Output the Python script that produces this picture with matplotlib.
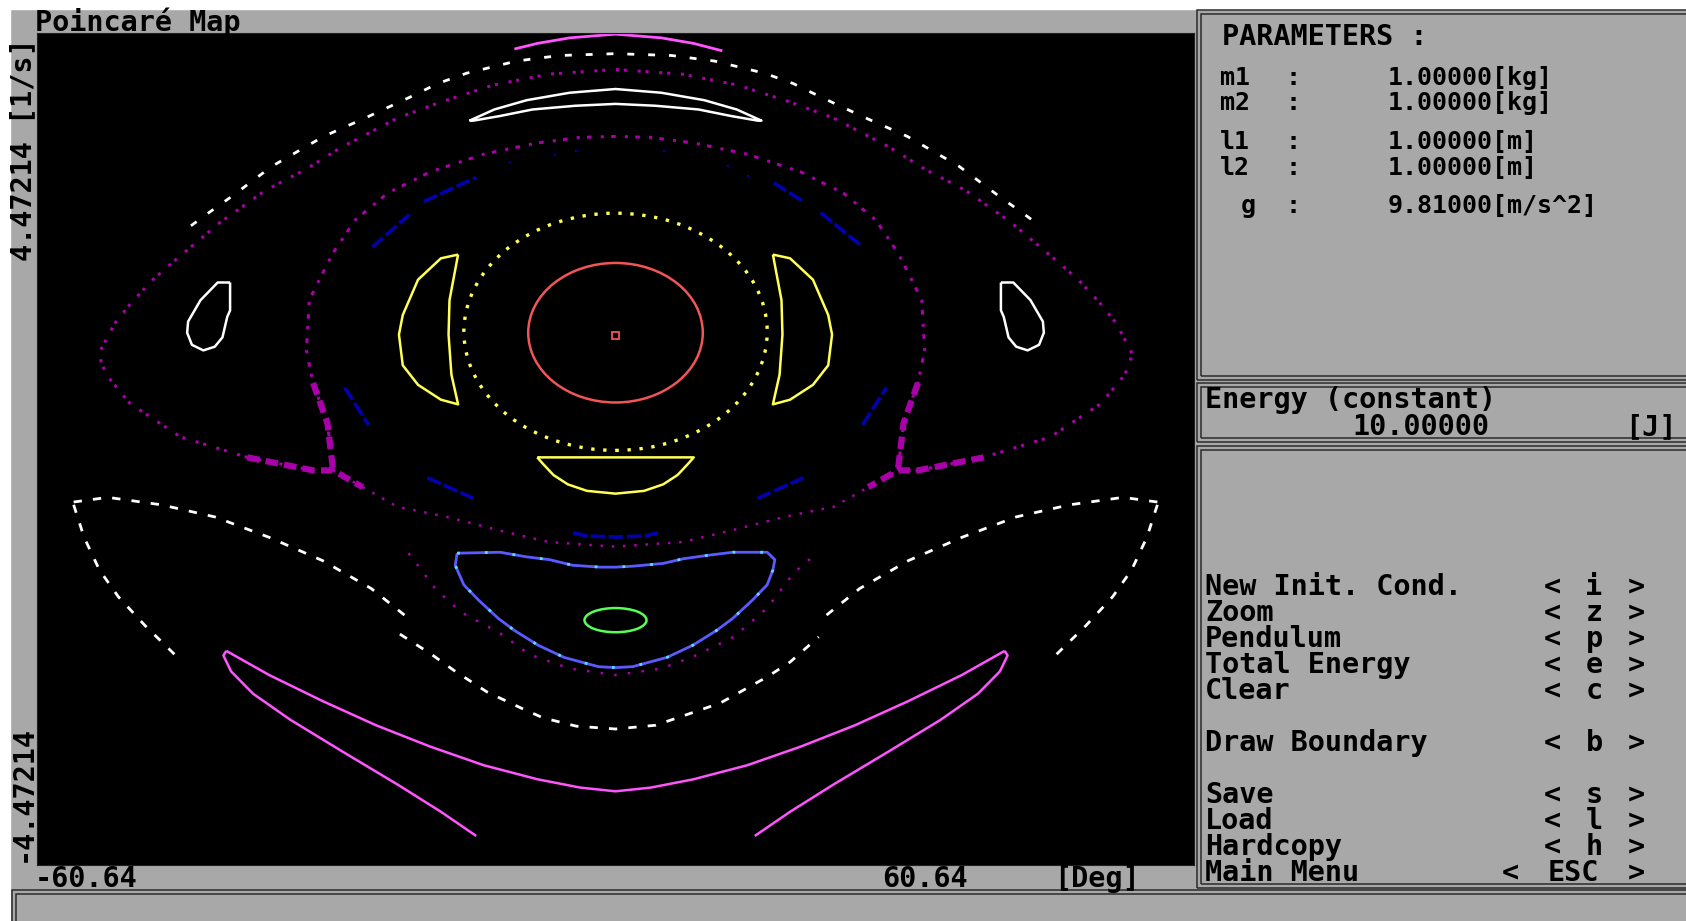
import matplotlib.pyplot as plt
from matplotlib.patches import Ellipse, Rectangle

W, H = 1686, 921
TH_MAX = 60.64      # angle range [deg]
OM_MAX = 4.47214    # angular velocity range [1/s]

GREY = '#a8a8a8'
EDGE = '#2c2c2c'
FONT = dict(family=['DejaVu Sans Mono'], weight='bold', size=20.5, color='black')

# ---------------- section points (theta [deg], omega [1/s]) ----------------
red_center, red_size = (0.0, 1.25), (18.3, 1.50)
fixed_point, fixed_size = (0.0, 1.215), (0.7, 0.075)
ring_center, ring_size = (0.0, 1.26), (31.8, 2.55)
green_center, green_size = (0.0, -1.84), (6.5, 0.26)

crescent_r_x = [16.5, 18.3, 20.7, 22.3, 22.7, 22.3, 20.7, 18.3, 16.5, 17.2, 17.5, 17.4, 16.5]
crescent_l_x = [-16.5, -18.3, -20.7, -22.3, -22.7, -22.3, -20.7, -18.3, -16.5, -17.2, -17.5, -17.4, -16.5]
crescent_y = [2.09, 2.05, 1.82, 1.44, 1.23, 0.90, 0.69, 0.53, 0.48, 0.80, 1.23, 1.60, 2.09]

lens_x = [-8.2, 8.2, 7.6, 6.5, 5.0, 3.0, 0.0, -3.0, -5.0, -6.5, -7.6, -8.2]
lens_y = [-0.09, -0.09, -0.16, -0.28, -0.38, -0.45, -0.48, -0.45, -0.38, -0.28, -0.16, -0.09]

bowl_x = [-16.6, -12.1, -9.3, -6.9, -4.5, -1.6, 0.0, 1.8, 5.0, 7.1, 9.9, 12.3, 15.9, 16.7,
          16.5, 15.9, 14.4, 12.3, 10.6, 8.1, 5.4, 1.8, 0.0, -1.8, -5.4, -8.1, -10.6, -12.3,
          -14.4, -15.9, -16.8, -16.6]
bowl_y = [-1.12, -1.11, -1.16, -1.19, -1.25, -1.27, -1.27, -1.26, -1.23, -1.18, -1.14, -1.11,
          -1.11, -1.19, -1.30, -1.46, -1.62, -1.82, -1.95, -2.11, -2.24, -2.34, -2.35, -2.34,
          -2.24, -2.11, -1.95, -1.82, -1.62, -1.46, -1.25, -1.12]

blue_chain = [
    ([-28.4, -25.9], [0.66, 0.26]),
    ([-19.7, -14.9], [-0.31, -0.53]),
    ([-4.45, -3.0, 0.0, 3.1, 4.45], [-0.90, -0.935, -0.946, -0.935, -0.90]),
    ([14.9, 19.7], [-0.53, -0.31]),
    ([25.9, 28.4], [0.26, 0.66]),
    ([-25.5, -21.6], [2.17, 2.52]),
    ([-20.1, -14.6], [2.66, 2.92]),
    ([16.6, 19.7], [2.86, 2.66]),
    ([21.5, 25.7], [2.54, 2.19]),
]
blue_dots_x = [-11.1, -6.3, -4.1, 5.1, 11.8, 13.9]
blue_dots_y = [3.08, 3.16, 3.20, 3.20, 3.04, 2.94]

tear_l_x = [-40.4, -41.7, -43.5, -44.8, -44.9, -44.4, -43.2, -42.0, -41.2, -40.7, -40.4, -40.4]
tear_r_x = [40.4, 41.7, 43.5, 44.8, 44.9, 44.4, 43.2, 42.0, 41.2, 40.7, 40.4, 40.4]
tear_y = [1.79, 1.79, 1.60, 1.37, 1.25, 1.12, 1.06, 1.10, 1.20, 1.42, 1.49, 1.79]

cap_x = [-15.3, -12.7, -9.3, -4.8, 0.0, 4.8, 9.3, 12.7, 15.3, 14.9, 12.1, 8.7, 4.2, 0.0,
         -4.2, -8.7, -12.1, -14.9, -15.3]
cap_y = [3.53, 3.65, 3.75, 3.83, 3.87, 3.83, 3.75, 3.65, 3.53, 3.53, 3.58, 3.65, 3.69, 3.71,
         3.69, 3.65, 3.58, 3.53, 3.53]

arch_x = [-44.5, -42.5, -40.3, -36.0, -30.6, -26.2, -21.6, -18.6, -15.6, -10.4, -5.9, 0.0,
          5.9, 10.4, 15.6, 18.6, 21.6, 26.2, 30.6, 36.0, 40.3, 42.5, 44.5]
arch_y = [2.40, 2.55, 2.71, 3.04, 3.36, 3.56, 3.78, 3.93, 4.04, 4.17, 4.23, 4.25,
          4.23, 4.17, 4.04, 3.93, 3.78, 3.56, 3.36, 3.04, 2.71, 2.55, 2.40]

top_x = [-10.6, -8.2, -4.8, 0.0, 4.8, 8.2, 11.2]
top_y = [4.30, 4.36, 4.42, 4.46, 4.42, 4.36, 4.28]

banana_x = [-40.8, -36.3, -30.7, -25.1, -19.4, -13.8, -8.2, -3.7, 0.0, 3.7, 8.2, 13.8,
            19.4, 25.1, 30.7, 36.3, 40.8]
banana_y = [-2.17, -2.43, -2.71, -2.97, -3.20, -3.40, -3.55, -3.64, -3.68, -3.64, -3.55,
            -3.40, -3.20, -2.97, -2.71, -2.43, -2.17]
tail_l_x = [-40.8, -41.1, -40.3, -38.0, -34.1, -28.5, -22.8, -18.3, -14.6]
tail_r_x = [40.8, 41.1, 40.3, 38.0, 34.1, 28.5, 22.8, 18.3, 14.6]
tail_y = [-2.17, -2.22, -2.39, -2.63, -2.91, -3.26, -3.61, -3.90, -4.16]

lobe_up_l_x = [-56.8, -53.2, -47.6, -42.0, -36.3, -30.7, -25.6, -21.7]
lobe_up_r_x = [56.8, 53.2, 47.6, 42.0, 36.3, 30.7, 25.6, 21.7]
lobe_up_y = [-0.57, -0.52, -0.60, -0.73, -0.95, -1.20, -1.50, -1.82]
lobe_lo_l_x = [-56.8, -55.7, -54.1, -52.1, -49.3, -45.9]
lobe_lo_r_x = [56.8, 55.7, 54.1, 52.1, 49.3, 45.9]
lobe_lo_y = [-0.60, -0.95, -1.30, -1.59, -1.90, -2.24]
smile_x = [-22.6, -19.4, -16.8, -13.5, -10.0, -7.6, -4.1, 0.0, 4.2, 8.2, 11.0, 15.9, 18.3, 21.3]
smile_y = [-1.99, -2.20, -2.39, -2.61, -2.78, -2.89, -2.98, -3.01, -2.97, -2.83, -2.73, -2.45,
           -2.29, -2.02]

# chaotic layer around the separatrix
sep_outer_x = [-29.6, -31.7, -38.6, -45.6, -50.9, -53.4, -54.2, -52.5, -50.7, -48.5, -46.5,
               -41.4, -36.7, -32.4, -28.8, -22.8, -18.3, -12.9, -7.0, 0.0, 7.0, 12.9, 18.3,
               22.8, 28.8, 32.4, 36.7, 41.4, 46.5, 48.5, 50.7, 52.5, 54.2, 53.4, 50.9, 45.6,
               38.6, 31.7, 29.6]
sep_outer_y = [-0.23, -0.23, -0.09, 0.13, 0.49, 0.80, 1.02, 1.35, 1.58, 1.82, 2.00, 2.44,
               2.78, 3.01, 3.24, 3.56, 3.73, 3.91, 4.03, 4.08, 4.03, 3.91, 3.73, 3.56, 3.24,
               3.01, 2.78, 2.44, 2.00, 1.82, 1.58, 1.35, 1.02, 0.80, 0.49, 0.13, -0.09, -0.23,
               -0.23]
sep_inner_x = [-29.6, -30.2, -31.7, -32.4, -32.1, -30.9, -29.6, -27.3, -23.9, -19.4, -13.8,
               -8.2, -3.7, 0.0, 3.7, 8.2, 13.8, 19.4, 23.9, 27.3, 29.6, 30.9, 32.1, 32.4,
               31.7, 30.2, 29.6]
sep_inner_y = [-0.23, 0.28, 0.71, 1.06, 1.60, 1.85, 2.11, 2.46, 2.75, 2.98, 3.17, 3.29, 3.35,
               3.36, 3.35, 3.29, 3.17, 2.98, 2.75, 2.46, 2.11, 1.85, 1.60, 1.06, 0.71, 0.28,
               -0.23]
sep_lower_x = [-29.6, -26.5, -22.9, -17.7, -12.0, -7.0, 0.0, 7.0, 12.0, 17.7, 22.9, 26.5, 29.6]
sep_lower_y = [-0.23, -0.41, -0.62, -0.73, -0.88, -1.00, -1.05, -1.00, -0.88, -0.73, -0.62,
               -0.41, -0.23]
halo_x = [-21.7, -20.2, -18.9, -16.1, -12.1, -9.0, -4.8, 0.0, 4.8, 8.2, 12.4, 15.9, 18.7, 21.1]
halo_y = [-1.12, -1.32, -1.50, -1.76, -1.98, -2.21, -2.36, -2.43, -2.36, -2.23, -2.02, -1.71,
          -1.33, -1.12]
knots = [
    ([-38.6, -31.7, -29.6, -26.5], [-0.09, -0.23, -0.23, -0.41]),
    ([-31.7, -30.2, -29.6], [0.71, 0.28, -0.23]),
    ([38.6, 31.7, 29.6, 26.5], [-0.09, -0.23, -0.23, -0.41]),
    ([31.7, 30.2, 29.6], [0.71, 0.28, -0.23]),
]

# ---------------- panel texts ----------------
param_names = ['m1', 'm2', 'l1', 'l2', 'g']
param_values = ['1.00000[kg]', '1.00000[kg]', '1.00000[m]', '1.00000[m]', '9.81000[m/s^2]']
energy_value = '10.00000'
menu_labels = ['New Init. Cond.', 'Zoom', 'Pendulum', 'Total Energy', 'Clear',
               'Draw Boundary', 'Save', 'Load', 'Hardcopy', 'Main Menu']
menu_keys = ['i', 'z', 'p', 'e', 'c', 'b', 's', 'l', 'h', 'ESC']
menu_rows = [0, 1, 2, 3, 4, 6, 8, 9, 10, 11]


def fx(px):
    return px / W


def fy(py):
    return 1 - py / H


fig = plt.figure(figsize=(W / 100, H / 100), dpi=100, facecolor=GREY)

# white screen border
fig.patches.append(Rectangle((0, fy(9)), 1, 9 / H, transform=fig.transFigure,
                             color='white', zorder=0))
fig.patches.append(Rectangle((0, 0), 10 / W, 1, transform=fig.transFigure,
                             color='white', zorder=0))

ax = fig.add_axes([fx(37), fy(865), 1157 / W, 832 / H])
ax.set_facecolor('black')
ax.set_xlim(-TH_MAX, TH_MAX)
ax.set_ylim(-OM_MAX, OM_MAX)
ax.set_xticks([])
ax.set_yticks([])
for s in ax.spines.values():
    s.set_color('#202020')
    s.set_linewidth(0.8)


def trace(xs, ys, color, lw=1.6, ls='-'):
    ax.plot(xs, ys, color=color, lw=lw, ls=ls, solid_capstyle='butt', dash_capstyle='butt')


# chaotic layer (dark magenta)
PURPLE = '#aa00aa'
trace(sep_outer_x, sep_outer_y, PURPLE, lw=2.2, ls=(0, (1, 1.6, 1, 3.5)))
trace(sep_inner_x, sep_inner_y, PURPLE, lw=2.2, ls=(0, (1, 2.4, 1.5, 3.0)))
trace(sep_lower_x, sep_lower_y, PURPLE, lw=1.8, ls=(0, (1, 3.5)))
trace(halo_x, halo_y, PURPLE, lw=1.8, ls=(0, (1, 4.5)))
for kx, ky in knots:
    trace(kx, ky, PURPLE, lw=4.5, ls=(0, (2, 1)))

# white orbits
trace(arch_x, arch_y, 'white', lw=2.0, ls=(0, (2.5, 5)))
trace(cap_x, cap_y, 'white', lw=1.8)
trace(tear_l_x, tear_y, 'white', lw=1.8)
trace(tear_r_x, tear_y, 'white', lw=1.8)
for lx, ly in [(lobe_up_l_x, lobe_up_y), (lobe_up_r_x, lobe_up_y),
               (lobe_lo_l_x, lobe_lo_y), (lobe_lo_r_x, lobe_lo_y)]:
    trace(lx, ly, 'white', lw=2.0, ls=(0, (3, 4)))
trace(smile_x, smile_y, 'white', lw=2.0, ls=(0, (3, 4)))

# light magenta orbits
PINK = '#ff55ff'
trace(top_x, top_y, PINK, lw=2.0)
trace(banana_x, banana_y, PINK, lw=1.8)
trace(tail_l_x, tail_y, PINK, lw=1.8)
trace(tail_r_x, tail_y, PINK, lw=1.8)

# dark blue island chain
for bx, by in blue_chain:
    trace(bx, by, '#0000b0', lw=2.6, ls=(0, (4, 1)))
ax.plot(blue_dots_x, blue_dots_y, 's', color='#0000b0', ms=2, mew=0)

# yellow orbits
YELLOW = '#ffff55'
ax.add_patch(Ellipse(ring_center, *ring_size, fill=False, ec=YELLOW, lw=2.4, ls=(0, (1, 2.6))))
trace(crescent_r_x, crescent_y, YELLOW, lw=1.8)
trace(crescent_l_x, crescent_y, YELLOW, lw=1.8)
trace(lens_x, lens_y, YELLOW, lw=1.8)

# central red orbit and fixed point
ax.add_patch(Ellipse(red_center, *red_size, fill=False, ec='#f25555', lw=1.8))
ax.add_patch(Rectangle((fixed_point[0] - fixed_size[0] / 2, fixed_point[1] - fixed_size[1] / 2),
                       *fixed_size, fill=False, ec='#f25555', lw=1.3))

# lower resonance: blue bowl with green core
trace(bowl_x, bowl_y, '#5a5aff', lw=2.0)
trace(bowl_x, bowl_y, '#55e0ff', lw=2.0, ls=(0, (1, 9)))
ax.add_patch(Ellipse(green_center, *green_size, fill=False, ec='#55ff55', lw=1.8))


# ---------------- screen texts ----------------
def say(px, py, s, **kw):
    opts = dict(FONT)
    opts.update(kw)
    fig.text(fx(px), fy(py), s, va=opts.pop('va', 'baseline'), ha=opts.pop('ha', 'left'), **opts)


say(35, 31, 'Poincaré Map')
say(23, 38, '4.47214 [1/s]', rotation=90, ha='center', va='top')
say(23, 862, '-4.47214', rotation=90, ha='center', va='bottom')
say(35, 887, '-60.64')
say(882, 887, '60.64')
say(1054, 887, '[Deg]')


# framed panels on the right
def frame(x0, y0, x1, y1):
    for d in (0, 4):
        fig.patches.append(Rectangle((fx(x0 + d), fy(y1 - d)), (x1 - x0 - 2 * d) / W,
                                     (y1 - y0 - 2 * d) / H, transform=fig.transFigure,
                                     fill=False, ec=EDGE, lw=1.1))


frame(1197, 10, W + 40, 380)
frame(1197, 383, W + 40, 442)
frame(1197, 446, W + 40, 888)
frame(12, 890, W + 40, H + 40)

# the parameter rows sit closer together, so they use a slightly smaller size
say(1222, 45, 'PARAMETERS :')
for name, val, base in zip(param_names, param_values, [85, 110, 149, 175, 213]):
    say(1220 + (21 if name == 'g' else 0), base, name, size=18)
    say(1293, base, ':', ha='center', size=18)
    say(1388, base, val, size=18)

say(1205, 408, 'Energy (constant)')
say(1352, 435, energy_value)
say(1625, 435, '[J]')

for label, key, row in zip(menu_labels, menu_keys, menu_rows):
    base = 595 + 26 * row
    say(1205, base, label)
    if len(key) == 1:
        say(1552, base, '<', ha='center')
        say(1594, base, key, ha='center')
    else:
        say(1510, base, '<', ha='center')
        say(1573, base, key, ha='center')
    say(1636, base, '>', ha='center')

fig.savefig('out.png', dpi=100, facecolor=GREY)
